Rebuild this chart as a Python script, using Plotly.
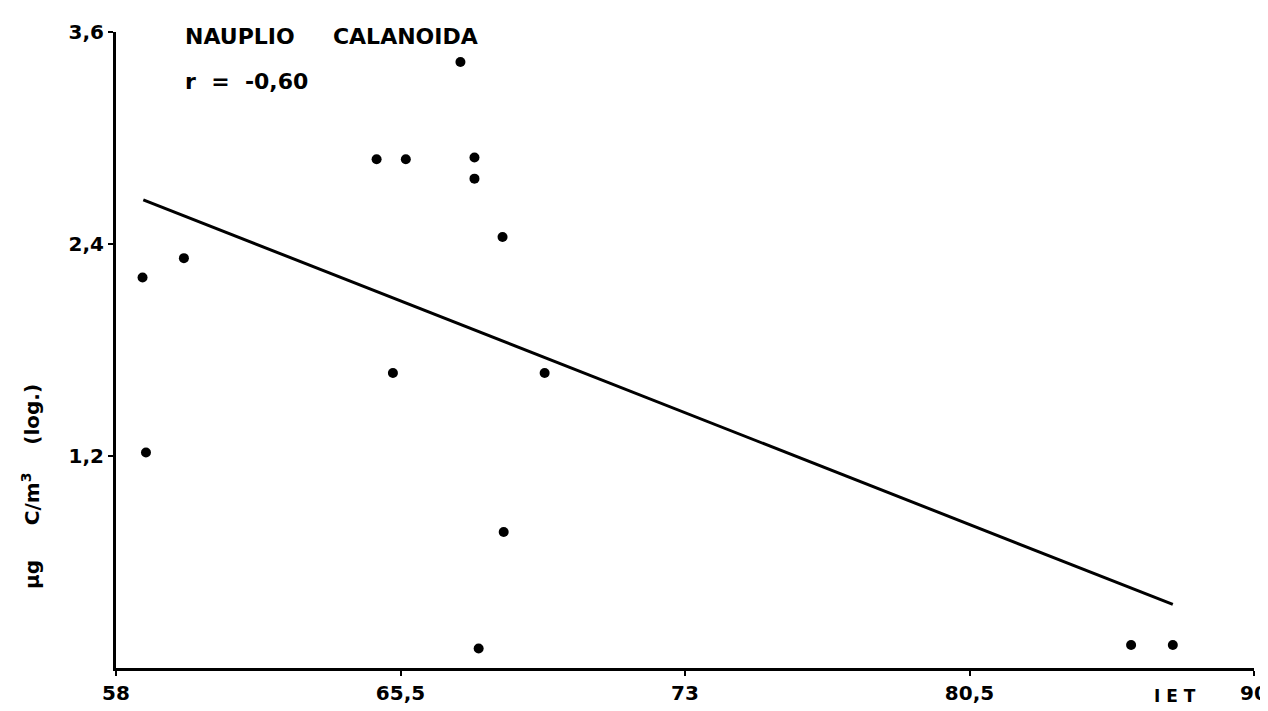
import plotly.graph_objects as go

# Data (IET vs µg C/m3 (log.))
iet = [58.70, 59.79, 58.79, 67.08, 64.87, 65.64, 67.45, 67.45, 68.19,
       65.30, 69.30, 68.22, 67.56, 84.76, 85.86]
carbon = [2.21, 2.32, 1.22, 3.43, 2.88, 2.88, 2.89, 2.77, 2.44,
          1.67, 1.67, 0.77, 0.11, 0.13, 0.13]

# Regression line endpoints
fit_x = [58.72, 85.86]
fit_y = [2.65, 0.36]

x_tick_vals = [58, 65.5, 73, 80.5, 88]
x_tick_text = ["58", "65,5", "73", "80,5", "90"]
y_tick_vals = [1.2, 2.4, 3.6]
y_tick_text = ["1,2", "2,4", "3,6"]

FONT = "DejaVu Sans, Verdana, sans-serif"

# page offset caused by the default body margin
OFF = 8
W, H = 1268 - OFF, 711 - OFF
ML, MR, MT, MB = 116 - OFF, 14, 32 - OFF, 43
PW, PH = W - ML - MR, H - MT - MB


def px(x):
    return (x - OFF - ML) / PW


def py(y):
    return (H - MB - (y - OFF)) / PH


fig = go.Figure()
fig.add_trace(go.Scatter(x=fit_x, y=fit_y, mode="lines",
                         line=dict(color="black", width=3), hoverinfo="skip",
                         showlegend=False))
fig.add_trace(go.Scatter(x=iet, y=carbon, mode="markers",
                         marker=dict(color="black", size=10),
                         showlegend=False))

tick_font = dict(family=FONT, size=20, color="black", weight="bold")
fig.update_layout(
    width=W, height=H,
    margin=dict(l=ML, r=MR, t=MT, b=MB, autoexpand=False),
    plot_bgcolor="white", paper_bgcolor="white",
    font=dict(family=FONT, color="black", size=16),
    xaxis=dict(range=[58, 88], tickvals=x_tick_vals, ticktext=x_tick_text,
               showgrid=False, zeroline=False, showline=True, automargin=False,
               linecolor="black", linewidth=3, ticks="outside",
               ticklen=5, tickwidth=2, tickcolor="black", tickfont=tick_font),
    yaxis=dict(range=[0, 3.6], tickvals=y_tick_vals, ticktext=y_tick_text,
               showgrid=False, zeroline=False, showline=True, automargin=False,
               linecolor="black", linewidth=3, ticks="outside",
               ticklen=5, tickwidth=2, tickcolor="black", tickfont=tick_font),
)

fig.add_annotation(xref="paper", yref="paper", x=px(183), y=py(36),
                   xanchor="left", yanchor="middle",
                   text="NAUPLIO&nbsp;&nbsp;&nbsp;&nbsp;&nbsp;CALANOIDA", showarrow=False,
                   font=dict(family=FONT, size=22, color="black", weight="bold"))
fig.add_annotation(xref="paper", yref="paper", x=px(183), y=py(82),
                   xanchor="left", yanchor="middle",
                   text="r&nbsp;&nbsp;=&nbsp;&nbsp;-0,60", showarrow=False,
                   font=dict(family=FONT, size=22, color="black", weight="bold"))
fig.add_annotation(xref="paper", yref="paper", x=px(1175), y=py(696),
                   xanchor="center", yanchor="middle",
                   text="I E T", showarrow=False,
                   font=dict(family=FONT, size=17, color="black", weight="bold"))
fig.add_annotation(xref="paper", yref="paper", x=px(31), y=py(487),
                   xanchor="center", yanchor="middle", textangle=-90,
                   text="µg&nbsp;&nbsp;&nbsp;&nbsp;&nbsp;C/m<sup>3</sup>&nbsp;&nbsp;&nbsp;&nbsp;(log.)",
                   showarrow=False,
                   font=dict(family=FONT, size=20, color="black", weight="bold"))

fig.write_html("out.html")
